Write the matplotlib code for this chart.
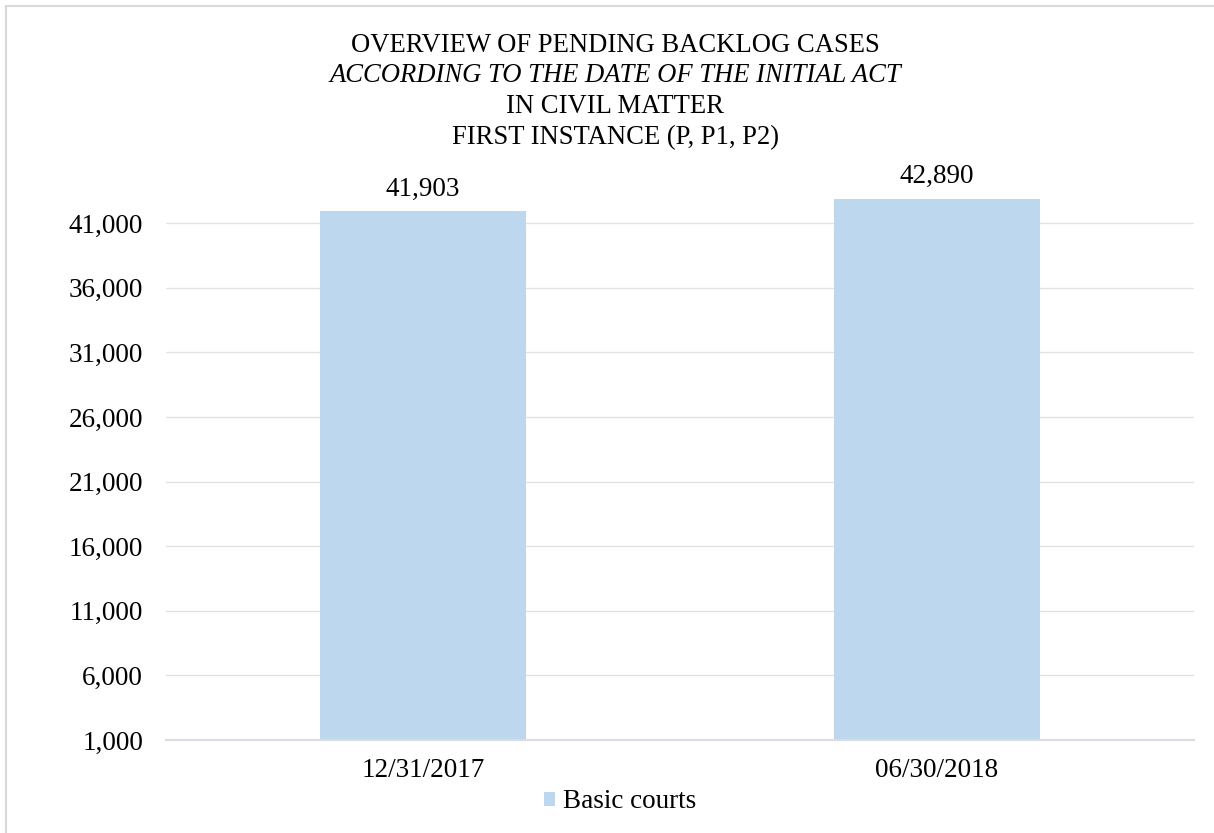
import matplotlib.pyplot as plt
from matplotlib.patches import Rectangle
from matplotlib.ticker import FuncFormatter

# data
dates = ["12/31/2017", "06/30/2018"]
basic_courts = [41903, 42890]
series_name = "Basic courts"
title_lines = ["OVERVIEW OF PENDING BACKLOG CASES",
               "ACCORDING TO THE DATE OF THE INITIAL ACT",
               "IN CIVIL MATTER",
               "FIRST INSTANCE (P, P1, P2)"]

plt.rcParams['font.family'] = ['Liberation Serif', 'DejaVu Serif']
fs = 19.5
title_fs = 19.2
bar_color = '#bdd7ee'
grid_color = '#e3e3e3'

fig = plt.figure(figsize=(12.14, 8.33), dpi=100)
ax = fig.add_axes([0.1367, 0.1116, 0.8468, 0.6981])

x = range(len(dates))
bars = ax.bar(x, basic_courts, width=0.4, color=bar_color, label=series_name, zorder=2)
ax.set_xlim(-0.5, len(dates) - 0.5)
ax.set_ylim(1000, 46000)
ax.set_yticks(range(1000, 46000, 5000))
ax.yaxis.set_major_formatter(FuncFormatter(lambda v, p: f"{int(v):,}"))
ax.set_xticks(list(x))
ax.set_xticklabels(dates)
ax.tick_params(axis='both', length=0, labelsize=fs)
ax.tick_params(axis='x', pad=13)
ax.tick_params(axis='y', pad=16.5)
ax.grid(axis='y', color=grid_color, linewidth=1, zorder=0)
for s in ['left', 'right', 'top']:
    ax.spines[s].set_visible(False)
ax.spines['bottom'].set_color('#d9dde3')
ax.spines['bottom'].set_linewidth(1.5)
ax.spines['bottom'].set_zorder(3)

for b, v in zip(bars, basic_courts):
    ax.annotate(f"{v:,}", (b.get_x() + b.get_width() / 2, v), xytext=(0, 7),
                textcoords='offset points', ha='center', va='bottom', fontsize=fs)

# title, second line italic; baselines in pixels from top
baselines = [52, 82, 113, 144]
for i, (line, yy) in enumerate(zip(title_lines, baselines)):
    fig.text(0.507, 1 - yy / 833, line, ha='center', va='baseline', fontsize=title_fs,
             style='italic' if i == 1 else 'normal')

ax.legend(loc='center', bbox_to_anchor=(0.511, 1 - 802 / 833), bbox_transform=fig.transFigure,
          frameon=False, fontsize=fs, handlelength=0.4, handleheight=0.4, handletextpad=0.3)

# outer chart border (only left and top edges fall inside the image)
fig.patches.append(Rectangle((6 / 1214, -0.05), 1.1, 1 - 6 / 833 + 0.05,
                             transform=fig.transFigure, fill=False,
                             edgecolor='#d9d9d9', linewidth=1.5))

fig.savefig("out.png", dpi=100)
